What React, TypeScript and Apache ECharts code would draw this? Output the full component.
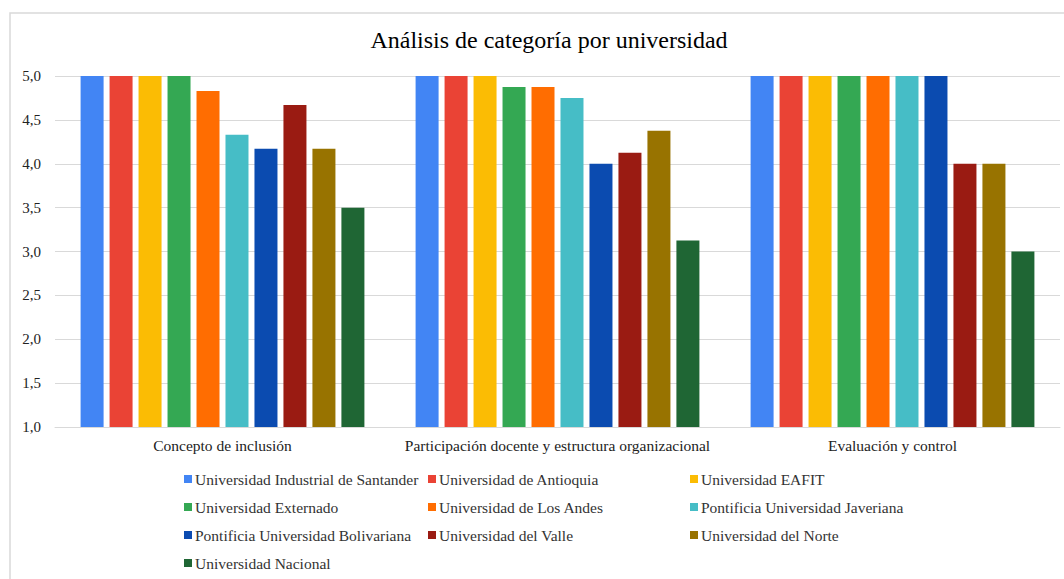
import React, { useEffect, useRef } from "react";
import * as echarts from "echarts";

const categories = [
  "Concepto de inclusión",
  "Participación docente y estructura organizacional",
  "Evaluación y control",
];

const seriesNames = [
  "Universidad Industrial de Santander",
  "Universidad de Antioquia",
  "Universidad EAFIT",
  "Universidad Externado",
  "Universidad de Los Andes",
  "Pontificia Universidad Javeriana",
  "Pontificia Universidad Bolivariana",
  "Universidad del Valle",
  "Universidad del Norte",
  "Universidad Nacional",
];

const santander = [5, 5, 5];
const antioquia = [5, 5, 5];
const eafit = [5, 5, 5];
const externado = [5, 4.875, 5];
const losAndes = [4.83, 4.875, 5];
const javeriana = [4.33, 4.75, 5];
const bolivariana = [4.17, 4.0, 5];
const valle = [4.67, 4.125, 4.0];
const norte = [4.17, 4.375, 4.0];
const nacional = [3.5, 3.125, 3.0];

const seriesValues = [
  santander, antioquia, eafit, externado, losAndes,
  javeriana, bolivariana, valle, norte, nacional,
];

const colors = [
  "#4285F4", "#EA4335", "#FBBC04", "#34A853", "#FF6D01",
  "#46BDC6", "#0B4BB0", "#9A1B12", "#987300", "#1F6634",
];

const FONT = "Liberation Serif, Times New Roman, serif";

export default function App() {
  const ref = useRef<HTMLDivElement>(null);
  useEffect(() => {
    if (!ref.current) return;
    const chart = echarts.init(ref.current, null, { renderer: "svg" });
    const colLeft = [184, 428, 690];
    const rowTop = [471, 499, 527, 555];
    const legends = seriesNames.map((name, i) => ({
      orient: "horizontal",
      left: colLeft[i % 3],
      top: rowTop[Math.floor(i / 3)],
      itemWidth: 8,
      itemHeight: 8,
      icon: "rect",
      selectedMode: false,
      padding: 0,
      data: [name],
      textStyle: { fontFamily: FONT, fontSize: 15.5, color: "#333", padding: [0, 0, 0, -2] },
    }));
    chart.setOption({
      animation: false,
      backgroundColor: "#fff",
      textStyle: { fontFamily: FONT },
      title: {
        text: "Análisis de categoría por universidad",
        left: 544,
        textAlign: "center",
        top: 23,
        textStyle: { fontFamily: FONT, fontSize: 24, fontWeight: "normal", color: "#000" },
      },
      graphic: [
        {
          type: "rect",
          shape: { x: 10, y: 13, width: 1070, height: 590 },
          style: { fill: "none", stroke: "#d9d9d9", lineWidth: 1.5 },
          silent: true,
        },
      ],
      legend: legends,
      grid: { left: 55, right: 4, top: 76, bottom: 152, containLabel: false },
      xAxis: {
        type: "category",
        data: categories,
        axisTick: { show: false },
        axisLine: { lineStyle: { color: "#d9d9d9" } },
        axisLabel: { fontFamily: FONT, fontSize: 15.5, color: "#222", margin: 10, interval: 0 },
      },
      yAxis: {
        type: "value",
        min: 1,
        max: 5,
        interval: 0.5,
        axisLine: { show: false },
        axisTick: { show: false },
        splitLine: { lineStyle: { color: "#d9d9d9" } },
        axisLabel: {
          fontFamily: FONT,
          fontSize: 15,
          color: "#222",
          margin: 14,
          formatter: (v: number) => v.toFixed(1).replace(".", ","),
        },
      },
      series: seriesNames.map((name, i) => ({
        name,
        type: "bar",
        data: seriesValues[i],
        barWidth: 23,
        barGap: "26%",
        itemStyle: { color: colors[i] },
      })),
    });
    return () => chart.dispose();
  }, []);
  return (
    <div
      ref={ref}
      style={{ position: "absolute", left: 0, top: 0, width: 1064, height: 579 }}
    />
  );
}
